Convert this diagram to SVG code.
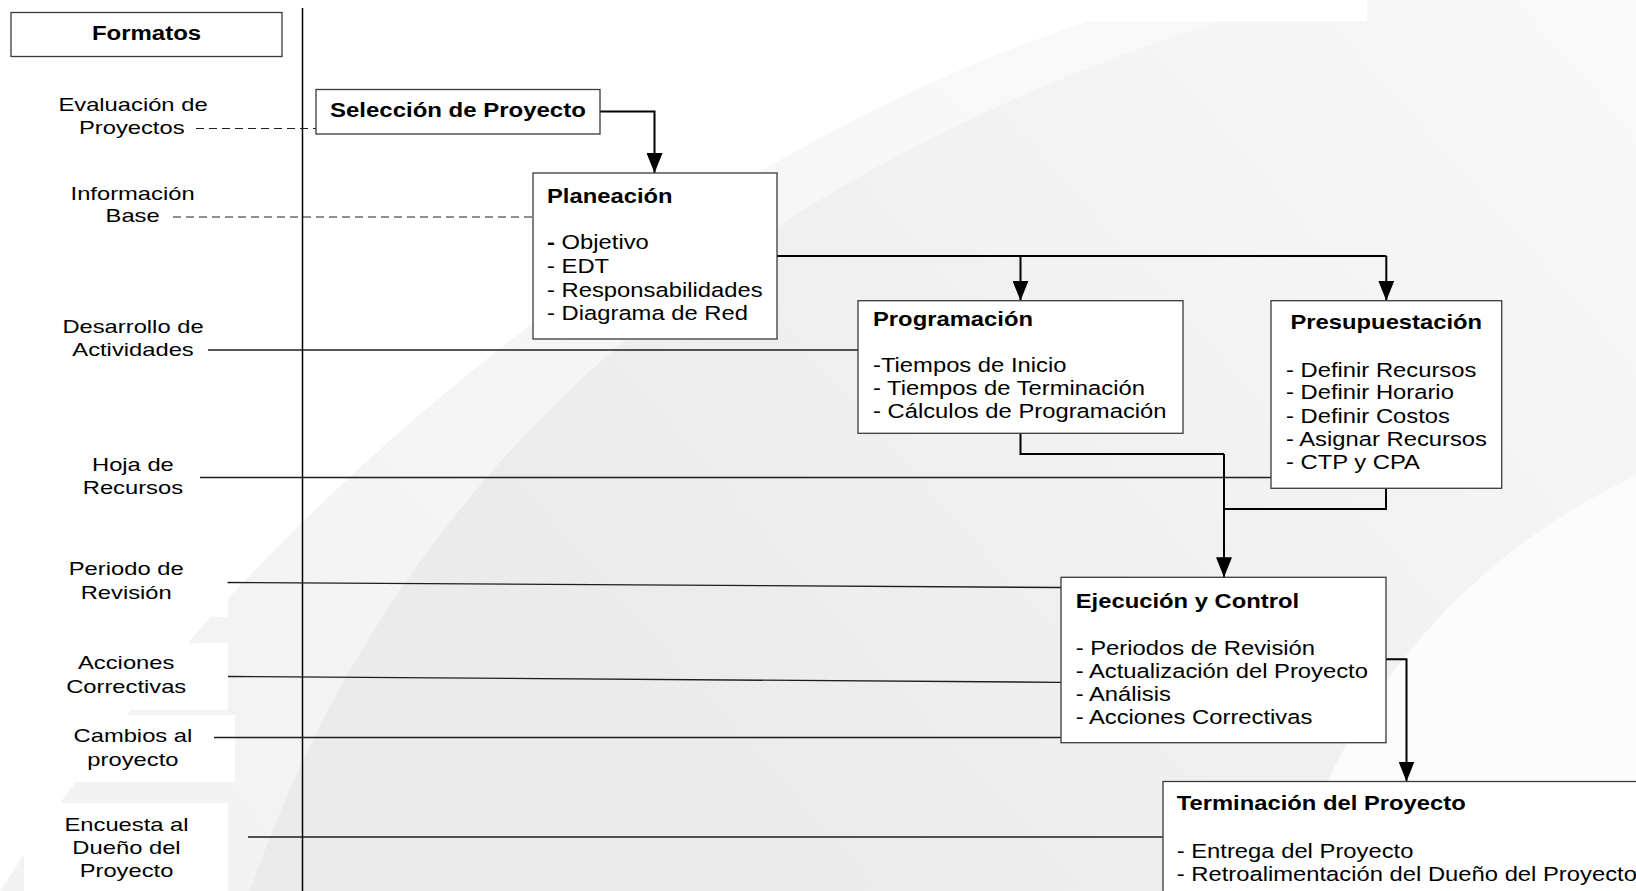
<svg xmlns="http://www.w3.org/2000/svg" width="1636" height="891" viewBox="0 0 1636 891">
  <defs>
    <style>
      .t { font-family: "Liberation Sans", Arial, sans-serif; font-size: 19.5px; fill: #000; }
      .b { font-weight: bold; }
      .lbl { font-family: "Liberation Sans", Arial, sans-serif; font-size: 19px; fill: #000; text-anchor: middle; }
      .box { fill: #fff; stroke: #3a3a3a; stroke-width: 1.3; }
      .flow { fill: none; stroke: #000; stroke-width: 2; }
      .fmt { fill: none; stroke: #1e1e1e; stroke-width: 1.3; }
      .dash { fill: none; stroke: #1e1e1e; stroke-width: 1.2; stroke-dasharray: 8 5; }
    </style>
    <marker id="arrow" markerUnits="userSpaceOnUse" markerWidth="20" markerHeight="16" viewBox="0 0 20 16" refX="20" refY="8" orient="auto">
      <path d="M0,0 L20,8 L0,16 Z" fill="#000"/>
    </marker>
    <linearGradient id="sweepMain" gradientUnits="userSpaceOnUse" x1="1550" y1="0" x2="700" y2="750">
      <stop offset="0" stop-color="#f8f8f8"/>
      <stop offset="1" stop-color="#ebebeb"/>
    </linearGradient>
    <linearGradient id="sweepBand" gradientUnits="userSpaceOnUse" x1="1200" y1="0" x2="200" y2="891">
      <stop offset="0" stop-color="#f9f9f9"/>
      <stop offset="1" stop-color="#f2f2f2"/>
    </linearGradient>
  </defs>

  <!-- background sweep -->
  <g id="background">
    <rect width="1636" height="891" fill="#fff"/>
    <path d="M1090,21 C720,140 270,470 0,891 L1636,891 L1636,0 L1367,0 L1367,21 Z" fill="url(#sweepBand)"/>
    <path d="M1220,21 C820,150 420,400 250,891 L1636,891 L1636,0 L1367,0 L1367,21 Z" fill="url(#sweepMain)"/>
    <path d="M1636,476 A632,632 0 0 0 1288,891 L1636,891 Z" fill="#fcfcfc"/>
    <rect x="0" y="553" width="228" height="64" fill="#fff"/>
    <rect x="0" y="643" width="228" height="67" fill="#fff"/>
    <rect x="0" y="715" width="235" height="67" fill="#fff"/>
    <rect x="24" y="803" width="204" height="88" fill="#fff"/>
  </g>

  <!-- divider between the format column and the process -->
  <line x1="302.5" y1="8" x2="302.5" y2="891" stroke="#000" stroke-width="1.5"/>

  <!-- connectors -->
  <g id="connectors">
    <path class="dash" d="M196,128.5 H316"/>
    <path class="dash" d="M173,217 H533"/>
    <path class="fmt" d="M208,350 H858"/>
    <path class="fmt" d="M200,477.5 H1271"/>
    <path class="fmt" d="M227.5,582.5 L1061,587.5"/>
    <path class="fmt" d="M228,676.5 L1061,682.3"/>
    <path class="fmt" d="M214,737.5 H1061"/>
    <path class="fmt" d="M248,837 H1163"/>

    <path class="flow" d="M600,111.5 H654.5 V173" marker-end="url(#arrow)"/>
    <path class="flow" d="M777,256 H1386.3"/>
    <path class="flow" d="M1020.5,256 V300.7" marker-end="url(#arrow)"/>
    <path class="flow" d="M1386.3,256 V300.7" marker-end="url(#arrow)"/>
    <path class="flow" d="M1020.5,433.3 V454 H1224"/>
    <path class="flow" d="M1386,488.3 V509 H1224"/>
    <path class="flow" d="M1224,454 V577.3" marker-end="url(#arrow)"/>
    <path class="flow" d="M1386,659.3 H1406.5 V781.5" marker-end="url(#arrow)"/>
  </g>

  <!-- format column -->
  <g id="formatos">
    <rect class="box" x="11" y="12.5" width="271" height="44"/>
    <g transform="translate(146.5 0) scale(1.23 1)"><text class="t b" x="0" y="40" text-anchor="middle">Formatos</text></g>
  </g>
  <g id="lbl-evaluacion" transform="translate(133 0) scale(1.25 1)">
    <text class="lbl" x="0" y="111">Evaluación de</text>
    <text class="lbl" x="-1" y="134">Proyectos</text>
  </g>
  <g id="lbl-informacion" transform="translate(132.6 0) scale(1.25 1)">
    <text class="lbl" x="0" y="200">Información</text>
    <text class="lbl" x="0" y="222.3">Base</text>
  </g>
  <g id="lbl-desarrollo" transform="translate(133 0) scale(1.25 1)">
    <text class="lbl" x="0" y="333.3">Desarrollo de</text>
    <text class="lbl" x="0" y="356">Actividades</text>
  </g>
  <g id="lbl-hoja" transform="translate(132.9 0) scale(1.25 1)">
    <text class="lbl" x="0" y="470.7">Hoja de</text>
    <text class="lbl" x="0" y="494">Recursos</text>
  </g>
  <g id="lbl-periodo" transform="translate(126.2 0) scale(1.25 1)">
    <text class="lbl" x="0" y="575">Periodo de</text>
    <text class="lbl" x="0" y="599.3">Revisión</text>
  </g>
  <g id="lbl-acciones" transform="translate(126.2 0) scale(1.25 1)">
    <text class="lbl" x="0" y="669.3">Acciones</text>
    <text class="lbl" x="0" y="693.3">Correctivas</text>
  </g>
  <g id="lbl-cambios" transform="translate(132.9 0) scale(1.25 1)">
    <text class="lbl" x="0" y="742.3">Cambios al</text>
    <text class="lbl" x="0" y="765.7">proyecto</text>
  </g>
  <g id="lbl-encuesta" transform="translate(126.5 0) scale(1.25 1)">
    <text class="lbl" x="0" y="830.7">Encuesta al</text>
    <text class="lbl" x="0" y="854">Dueño del</text>
    <text class="lbl" x="0" y="876.7">Proyecto</text>
  </g>

  <!-- process stages -->
  <g id="seleccion">
    <rect class="box" x="316" y="89.5" width="284" height="44.5"/>
    <g transform="translate(330 0) scale(1.23 1)"><text class="t b" x="0" y="117">Selección de Proyecto</text></g>
  </g>

  <g id="planeacion">
    <rect class="box" x="533" y="173" width="244" height="166"/>
    <g transform="translate(547 0) scale(1.22 1)">
      <text class="t b" x="0" y="203">Planeación</text>
      <text class="t" x="0" y="249"><tspan class="b">-</tspan> Objetivo</text>
      <text class="t" x="0" y="273">- EDT</text>
      <text class="t" x="0" y="296.7">- Responsabilidades</text>
      <text class="t" x="0" y="320">- Diagrama de Red</text>
    </g>
  </g>

  <g id="programacion">
    <rect class="box" x="858" y="300.7" width="325" height="132.6"/>
    <g transform="translate(873 0) scale(1.22 1)">
      <text class="t b" x="0" y="325.7">Programación</text>
      <text class="t" x="0" y="371.7">-Tiempos de Inicio</text>
      <text class="t" x="0" y="395">- Tiempos de Terminación</text>
      <text class="t" x="0" y="418.3">- Cálculos de Programación</text>
    </g>
  </g>

  <g id="presupuestacion">
    <rect class="box" x="1271" y="300.7" width="230.7" height="187.6"/>
    <g transform="translate(1386.3 0) scale(1.22 1)">
      <text class="t b" x="0" y="329.3" text-anchor="middle">Presupuestación</text>
    </g>
    <g transform="translate(1286 0) scale(1.22 1)">
      <text class="t" x="0" y="376.7">- Definir Recursos</text>
      <text class="t" x="0" y="399.3">- Definir Horario</text>
      <text class="t" x="0" y="422.7">- Definir Costos</text>
      <text class="t" x="0" y="446">- Asignar Recursos</text>
      <text class="t" x="0" y="469.3">- CTP y CPA</text>
    </g>
  </g>

  <g id="ejecucion">
    <rect class="box" x="1061" y="577.3" width="325" height="165.4"/>
    <g transform="translate(1075.7 0) scale(1.22 1)">
      <text class="t b" x="0" y="608.3">Ejecución y Control</text>
      <text class="t" x="0" y="655">- Periodos de Revisión</text>
      <text class="t" x="0" y="677.7">- Actualización del Proyecto</text>
      <text class="t" x="0" y="700.7">- Análisis</text>
      <text class="t" x="0" y="724">- Acciones Correctivas</text>
    </g>
  </g>

  <g id="terminacion">
    <rect class="box" x="1163" y="781.5" width="520" height="160"/>
    <g transform="translate(1176.7 0) scale(1.22 1)">
      <text class="t b" x="0" y="810">Terminación del Proyecto</text>
      <text class="t" x="0" y="858.3">- Entrega del Proyecto</text>
      <text class="t" x="0" y="880.7">- Retroalimentación del Dueño del Proyecto</text>
    </g>
  </g>
</svg>
